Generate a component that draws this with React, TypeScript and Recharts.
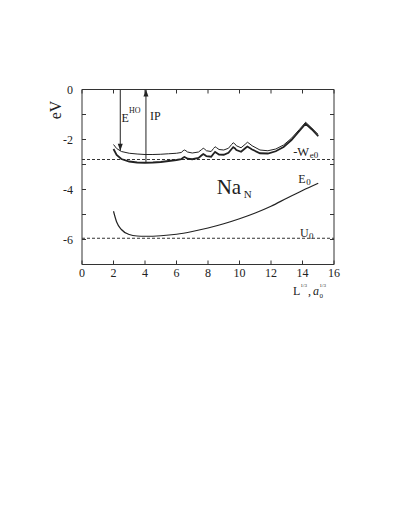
import React from 'react';
import { LineChart, Line, XAxis, YAxis, ReferenceLine, ReferenceDot } from 'recharts';

// L^(1/3) positions shared by the two upper curves
const curveX = [
  2.0, 2.2, 2.5, 3.0, 3.5, 4.0, 4.5, 5.0, 5.5, 6.0, 6.3, 6.42, 6.5, 6.6, 6.7, 7.0, 7.4, 7.6, 7.7,
  7.8, 7.9, 8.2, 8.35, 8.45, 8.55, 8.7, 9.0, 9.3, 9.5, 9.6, 9.7, 9.8, 10.1, 10.4, 10.5, 10.6,
  10.8, 11.3, 11.8, 12.3, 12.8, 13.3, 13.8, 14.2, 14.6, 15.0
];
// highest occupied level (thin curve)
const eHO = [
  -2.2, -2.36, -2.48, -2.55, -2.58, -2.6, -2.6, -2.59, -2.57, -2.55, -2.52, -2.45, -2.42, -2.45,
  -2.5, -2.54, -2.5, -2.4, -2.35, -2.39, -2.45, -2.48, -2.36, -2.29, -2.33, -2.4, -2.42, -2.35,
  -2.2, -2.13, -2.17, -2.25, -2.33, -2.17, -2.11, -2.15, -2.25, -2.42, -2.45, -2.38, -2.22, -1.95,
  -1.6, -1.31, -1.55, -1.8
];
// ionisation potential (thick curve)
const ip = [
  -2.38, -2.62, -2.78, -2.88, -2.92, -2.93, -2.92, -2.9, -2.86, -2.82, -2.79, -2.73, -2.7, -2.73,
  -2.77, -2.79, -2.74, -2.63, -2.58, -2.62, -2.67, -2.69, -2.57, -2.5, -2.54, -2.6, -2.61, -2.53,
  -2.38, -2.31, -2.35, -2.42, -2.49, -2.33, -2.28, -2.32, -2.4, -2.55, -2.56, -2.47, -2.3, -2.02,
  -1.66, -1.37, -1.6, -1.87
];
const e0X = [2.0, 2.2, 2.5, 3.0, 3.5, 4.0, 5.0, 6.0, 7.0, 8.0, 9.0, 10.0, 11.0, 12.0, 13.0, 14.0, 15.0];
const e0 = [
  -4.87, -5.3, -5.6, -5.8, -5.86, -5.87, -5.85, -5.79, -5.68, -5.54, -5.37, -5.17, -4.94, -4.67,
  -4.35, -4.04, -3.75
];

const xTicks = [0, 2, 4, 6, 8, 10, 12, 14, 16];
const yTicks = [0, -1, -2, -3, -4, -5, -6, -7];

const workFunction = -2.8; // -W_e0
const u0Level = -5.95;
const eHOArrowX = 2.43;
const ipArrowX = 4.06;

const hoData = curveX.map((x, i) => ({ x, y: eHO[i] }));
const ipData = curveX.map((x, i) => ({ x, y: ip[i] }));
const e0Data = e0X.map((x, i) => ({ x, y: e0[i] }));

const INK = '#222';
const FONT = '"Liberation Serif", "DejaVu Serif", serif';

const arrow = (p: any) => {
  const { x1, y1, x2, y2 } = p;
  const dir = y2 > y1 ? 1 : -1;
  return (
    <g>
      <line x1={x1} y1={y1} x2={x2} y2={y2} stroke={INK} strokeWidth={1} />
      <path
        d={`M${x2},${y2} L${x2 - 2.5},${y2 - dir * 7} L${x2 + 2.5},${y2 - dir * 7} Z`}
        fill={INK}
      />
    </g>
  );
};

const textShape = (render: (cx: number, cy: number) => React.ReactNode) => (p: any) => (
  <g fontFamily={FONT} fill={INK}>{render(p.cx, p.cy)}</g>
);

const yTickFmt = (v: number) => (v % 2 === 0 ? String(v) : '');
const blank = () => '';

export default function App() {
  return (
    <div style={{ fontFamily: FONT }}>
      <LineChart
        width={383}
        height={500}
        margin={{ top: 71.5, right: 47, bottom: 203.5, left: 34 }}
      >
        <XAxis
          type="number"
          dataKey="x"
          domain={[0, 16]}
          ticks={xTicks}
          height={40}
          tickSize={-4}
          tickMargin={8}
          axisLine={{ stroke: '#333' }}
          tickLine={{ stroke: '#333' }}
          tick={{ fill: INK, fontSize: 12, fontFamily: FONT }}
          allowDataOverflow
        />
        <XAxis
          xAxisId="t"
          orientation="top"
          type="number"
          dataKey="x"
          domain={[0, 16]}
          ticks={xTicks}
          height={10}
          tickSize={-4}
          tickFormatter={blank}
          axisLine={{ stroke: '#333' }}
          tickLine={{ stroke: '#333' }}
          allowDataOverflow
        />
        <YAxis
          type="number"
          domain={[-7, 0]}
          ticks={yTicks}
          width={40}
          tickSize={-4}
          tickMargin={13}
          tickFormatter={yTickFmt}
          axisLine={{ stroke: '#333' }}
          tickLine={{ stroke: '#333' }}
          tick={{ fill: INK, fontSize: 12, fontFamily: FONT }}
          allowDataOverflow
        />
        <YAxis
          yAxisId="r"
          orientation="right"
          type="number"
          domain={[-7, 0]}
          ticks={yTicks}
          width={10}
          tickSize={-4}
          tickFormatter={blank}
          axisLine={{ stroke: '#333' }}
          tickLine={{ stroke: '#333' }}
          allowDataOverflow
        />

        <ReferenceLine y={workFunction} stroke="#333" strokeDasharray="3 2" strokeWidth={1} />
        <ReferenceLine y={u0Level} stroke="#333" strokeDasharray="3 2" strokeWidth={1} />

        <Line data={hoData} dataKey="y" type="linear" stroke={INK} strokeWidth={1} dot={false} isAnimationActive={false} />
        <Line data={ipData} dataKey="y" type="linear" stroke={INK} strokeWidth={1.8} dot={false} isAnimationActive={false} />
        <Line data={e0Data} dataKey="y" type="monotone" stroke={INK} strokeWidth={1.2} dot={false} isAnimationActive={false} />

        <ReferenceLine segment={[{ x: eHOArrowX, y: 0 }, { x: eHOArrowX, y: -2.45 }]} shape={arrow} />
        <ReferenceLine segment={[{ x: ipArrowX, y: -2.93 }, { x: ipArrowX, y: 0 }]} shape={arrow} />

        <ReferenceDot
          x={2.5}
          y={-1.29}
          r={0}
          shape={textShape((cx, cy) => (
            <>
              <text x={cx} y={cy} fontSize={12}>E</text>
              <text x={cx + 7.5} y={cy - 9} fontSize={8}>HO</text>
            </>
          ))}
        />
        <ReferenceDot
          x={4.32}
          y={-1.22}
          r={0}
          shape={textShape((cx, cy) => <text x={cx} y={cy} fontSize={12}>IP</text>)}
        />
        <ReferenceDot
          x={13.41}
          y={-2.66}
          r={0}
          shape={textShape((cx, cy) => (
            <>
              <text x={cx} y={cy} fontSize={12.5}>-W</text>
              <text x={cx + 16.5} y={cy + 2} fontSize={9}>e0</text>
            </>
          ))}
        />
        <ReferenceDot
          x={13.73}
          y={-3.75}
          r={0}
          shape={textShape((cx, cy) => (
            <>
              <text x={cx} y={cy} fontSize={12}>E</text>
              <text x={cx + 8} y={cy + 2} fontSize={9}>0</text>
            </>
          ))}
        />
        <ReferenceDot
          x={13.84}
          y={-5.91}
          r={0}
          shape={textShape((cx, cy) => (
            <>
              <text x={cx} y={cy} fontSize={12}>U</text>
              <text x={cx + 9} y={cy + 2} fontSize={9}>0</text>
            </>
          ))}
        />
        <ReferenceDot
          x={8.55}
          y={-4.18}
          r={0}
          shape={textShape((cx, cy) => (
            <>
              <text x={cx} y={cy} fontSize={21}>Na</text>
              <text x={cx + 27} y={cy + 3.5} fontSize={11}>N</text>
            </>
          ))}
        />
        <ReferenceDot
          x={-1.71}
          y={-0.82}
          r={0}
          ifOverflow="visible"
          shape={textShape((cx, cy) => (
            <text
              x={cx}
              y={cy}
              fontSize={16}
              textAnchor="middle"
              dominantBaseline="central"
              transform={`rotate(-90 ${cx} ${cy})`}
            >
              eV
            </text>
          ))}
        />
        <ReferenceDot
          x={13.4}
          y={-8.22}
          r={0}
          ifOverflow="visible"
          shape={textShape((cx, cy) => (
            <>
              <text x={cx} y={cy} fontSize={12}>L</text>
              <text x={cx + 7.5} y={cy - 8} fontSize={5}>1/3</text>
              <text x={cx + 15} y={cy} fontSize={12}>,</text>
              <text x={cx + 20} y={cy} fontSize={12} fontStyle="italic">a</text>
              <text x={cx + 26.5} y={cy + 2.5} fontSize={7}>0</text>
              <text x={cx + 26.5} y={cy - 8} fontSize={5}>1/3</text>
            </>
          ))}
        />
      </LineChart>
    </div>
  );
}
